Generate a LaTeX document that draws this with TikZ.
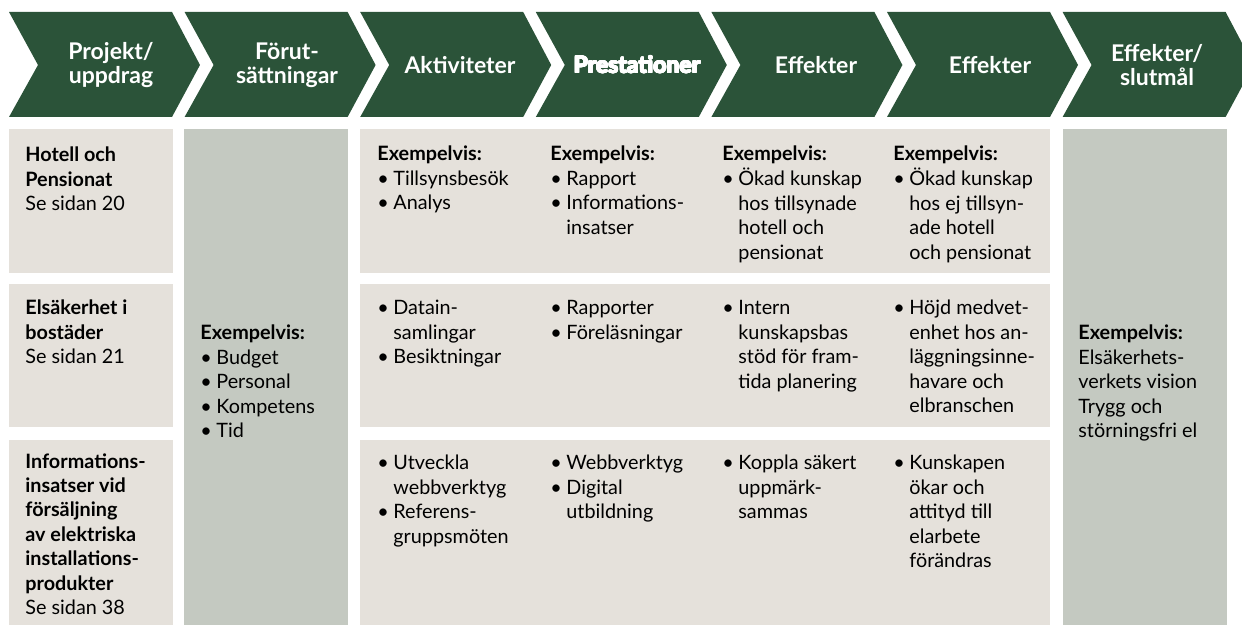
\documentclass[tikz,border=0pt]{standalone}
\usepackage{fontspec}
\setmainfont{Lato}
\usetikzlibrary{positioning}
\IfFileExists{contour.sty}{\usepackage{contour}\contourlength{0.35pt}\def\heavy{\contour{white}}}{\let\heavy\relax}

\definecolor{chevgreen}{HTML}{2B5339}
\definecolor{boxbeige}{HTML}{E5E1DB}
\definecolor{boxsage}{HTML}{C4C9C1}

\newcommand{\bul}{\makebox[8pt][l]{\textbullet}}
\newcommand{\hang}{\hspace*{8pt}}
\newcommand{\lns}[1]{\begin{tabular}[t]{@{}l@{}}#1\end{tabular}}

\begin{document}
\begin{tikzpicture}[x=0.5pt,y=-0.5pt,
            chev/.style={fill=chevgreen},
            cell/.style={fill=boxbeige},
            side/.style={fill=boxsage},
            head/.style={text=white, inner sep=0pt, align=center, font=\fontsize{11.5}{11.8}\selectfont\bfseries},
            txt/.style={anchor=base west, inner sep=0pt, font=\fontsize{9.9}{12.2}\selectfont}
        ]
            \useasboundingbox (0,0) rectangle (1242,625);
            % header arrows
            \begin{scope}
                \clip (0,0) rectangle (1242,625);
                \foreach \i in {0,...,6} {
                    \fill[chev] ({9+175.6*\i},12) -- ++(163,0) -- ++(28,53) -- ++(-28,52) -- ++(-163,0) -- ++(29,-52) -- cycle;
                }
            \end{scope}
            \foreach \x/\name/\lab in {111/hproj/{Projekt/\\uppdrag},287/hfor/{Förut-\\sättningar},460/hakt/{Aktiviteter},637/hpre/{\heavy{Prestationer}},816/heff/{Effekter},990/heffb/{Effekter},1157/hslut/{Effekter/\\slutmål}} {
                \node[head] (\name) at (\x,65) {\lab};
            }
            % boxes
            \foreach \ya/\yb in {129/273,284/427,440/625} {
                \fill[cell] (9,\ya) rectangle (173,\yb);
                \fill[cell] (360,\ya) rectangle (1050,\yb);
            }
            \fill[side] (184,129) rectangle (348,625);
            \fill[side] (1063,129) rectangle (1227,625);
            % first column
            \node[txt] (proj1) at (25,162) {\lns{\textbf{Hotell och}\\\textbf{Pensionat}\\Se sidan 20}};
            \node[txt] (proj2) at (25,315) {\lns{\textbf{Elsäkerhet i}\\\textbf{bostäder}\\Se sidan 21}};
            \node[txt] (proj3) at (25,468) {\lns{\textbf{Informations-}\\\textbf{insatser vid}\\\textbf{försäljning}\\\textbf{av elektriska}\\\textbf{installations-}\\\textbf{produkter}\\Se sidan 38}};
            % side columns
            \node[txt] (forut) at (200,340) {\lns{\textbf{Exempelvis:}\\\bul Budget\\\bul Personal\\\bul Kompetens\\\bul Tid}};
            \node[txt] (slut) at (1078,340) {\lns{\textbf{Exempelvis:}\\Elsäkerhets-\\verkets vision\\Trygg och\\störningsfri el}};
            % row 1
            \foreach \x/\name/\lab in {377/akt1/{\bul Tillsynsbesök\\\bul Analys},550/pre1/{\bul Rapport\\\bul Informations-\\\hang insatser},722/eff1/{\bul Ökad kunskap\\\hang hos tillsynade\\\hang hotell och\\\hang pensionat},893/effb1/{\bul Ökad kunskap\\\hang hos ej tillsyn-\\\hang ade hotell\\\hang och pensionat}} {
                \node[txt] (\name) at (\x,161) {\lns{\textbf{Exempelvis:}\\\lab}};
            }
            % row 2
            \foreach \x/\name/\lab in {377/akt2/{\bul Datain-\\\hang samlingar\\\bul Besiktningar},550/pre2/{\bul Rapporter\\\bul Föreläsningar},722/eff2/{\bul Intern\\\hang kunskapsbas\\\hang stöd för fram-\\\hang tida planering},893/effb2/{\bul Höjd medvet-\\\hang enhet hos an-\\\hang läggningsinne-\\\hang havare och\\\hang elbranschen}} {
                \node[txt] (\name) at (\x,315) {\lns{\lab}};
            }
            % row 3
            \foreach \x/\name/\lab in {377/akt3/{\bul Utveckla\\\hang webbverktyg\\\bul Referens-\\\hang gruppsmöten},550/pre3/{\bul Webbverktyg\\\bul Digital\\\hang utbildning},722/eff3/{\bul Koppla säkert\\\hang uppmärk-\\\hang sammas},893/effb3/{\bul Kunskapen\\\hang ökar och\\\hang attityd till\\\hang elarbete\\\hang förändras}} {
                \node[txt] (\name) at (\x,470) {\lns{\lab}};
            }
        \end{tikzpicture}
\end{document}
